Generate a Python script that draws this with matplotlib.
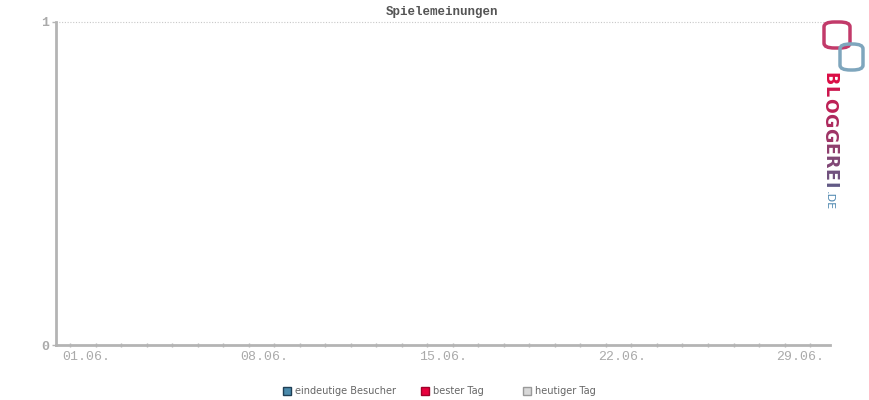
import numpy as np
import matplotlib.pyplot as plt
from matplotlib.patches import Rectangle, FancyBboxPatch

# data
title = "Spielemeinungen"
days = list(range(1, 31))
label_days = [1, 8, 15, 22, 29]
tick_labels = ["01.06.", "08.06.", "15.06.", "22.06.", "29.06."]
y_ticks = [0, 1]
legend_names = ["eindeutige Besucher", "bester Tag", "heutiger Tag"]
legend_faces = ["#4a8aab", "#e8003d", "#d9d9d9"]
legend_edges = ["#1f3f55", "#a0002a", "#9a9a9a"]
logo_text = "BLOGGEREI"

W, H = 870, 400
fig = plt.figure(figsize=(8.7, 4.0), dpi=100)
ax = fig.add_axes([56 / W, 55 / H, (830 - 56) / W, (345 - 22) / H])

grey = "#b4b4b4"
mono = "Liberation Mono"

ax.set_xlim(1 - 14 / 25.52, 1 + 760 / 25.52)
ax.set_ylim(0, 1)
for s in ["top", "right"]:
    ax.spines[s].set_visible(False)
for s in ["left", "bottom"]:
    ax.spines[s].set_color(grey)
    ax.spines[s].set_linewidth(2)

ax.set_xticks(days)
ax.set_xticklabels([])
ax.tick_params(axis="x", length=3, width=1, color=grey, direction="inout")
for d, lab in zip(label_days, tick_labels):
    ax.text(d + 0.62, -0.018, lab, ha="center", va="top", fontsize=9.5,
            family=mono, color="#aaaaaa", transform=ax.get_xaxis_transform())

ax.set_yticks(y_ticks)
ax.set_yticklabels([str(v) for v in y_ticks], family=mono, fontsize=9.5,
                   color="#aaaaaa", fontweight="bold")
ax.tick_params(axis="y", length=3, width=1, color=grey, pad=2)
ax.axhline(1, color="#c8c8c8", lw=0.8, ls=(0, (1, 1.5)), clip_on=False)

fig.text(442 / W, 1 - 12 / H, title, ha="center", va="center", fontsize=9,
         family=mono, color="#555555", fontweight="bold")

# legend
lx = [287, 425, 527]
for x, name, fc, ec in zip(lx, legend_names, legend_faces, legend_edges):
    fig.patches.append(Rectangle(((x - 4) / W, 1 - 395 / H), 8 / W, 8 / H,
                                 facecolor=fc, edgecolor=ec, lw=1,
                                 transform=fig.transFigure))
    fig.text((x + 8) / W, 1 - 391 / H, name, ha="left", va="center",
             fontsize=7, color="#666666", family="DejaVu Sans")

# logo
fig.patches.append(FancyBboxPatch((824 / W, 1 - 48 / H), 26 / W, 26 / H,
                                  boxstyle="round,pad=0,rounding_size=0.012",
                                  fill=False, edgecolor="#c23a6a", lw=2.5,
                                  transform=fig.transFigure))
fig.patches.append(FancyBboxPatch((840 / W, 1 - 70 / H), 23 / W, 26 / H,
                                  boxstyle="round,pad=0,rounding_size=0.012",
                                  fill=False, edgecolor="#7fa6bd", lw=2.5,
                                  transform=fig.transFigure))

c0 = np.array([0.86, 0.05, 0.27])
c1 = np.array([0.38, 0.35, 0.52])
n = len(logo_text)
renderer = fig.canvas.get_renderer()
ypos = 72.0
for i, ch in enumerate(logo_text):
    t = i / (n - 1)
    col = c0 * (1 - t) + c1 * t
    txt = fig.text(829 / W, 1 - ypos / H, ch, rotation=270, ha="center",
                   va="top", fontsize=12.5, fontweight="bold", color=col,
                   family="DejaVu Sans Condensed")
    bb = txt.get_window_extent(renderer)
    ypos += bb.height + 0.6
fig.text(829 / W, 1 - (ypos + 2) / H, ".DE", rotation=270, ha="center",
         va="top", fontsize=8, color="#4f88b0", family="DejaVu Sans")

fig.savefig("out.png", dpi=100)
